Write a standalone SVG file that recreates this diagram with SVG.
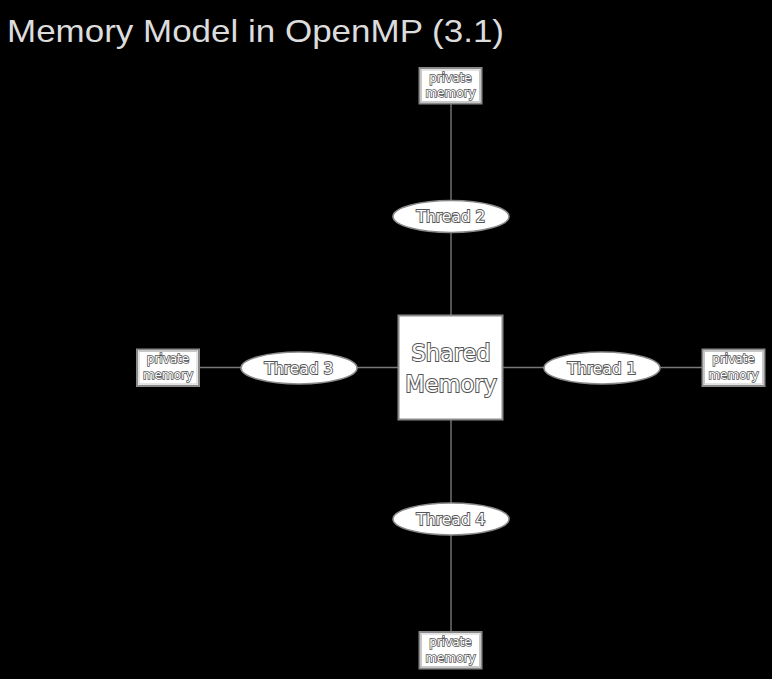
<svg xmlns="http://www.w3.org/2000/svg" width="772" height="679" viewBox="0 0 772 679">
<style>
.bg{fill:#000}
.title{font-family:"Liberation Sans","DejaVu Sans",sans-serif;font-size:32px;fill:#dcdcdc}
.box{fill:#fff;stroke:#8a8a8a;stroke-width:2}
.inner{fill:none;stroke:#bbb;stroke-width:0.8}
.ell{fill:#fff;stroke:#8a8a8a;stroke-width:1.6}
.edge{stroke:#777;stroke-width:1.4;fill:none}
.lbl{font-family:"DejaVu Sans",sans-serif;fill:#fff;stroke:#555;stroke-width:1.8;paint-order:stroke;text-anchor:middle}
.t{font-size:15.5px}
.p{font-size:12px;stroke-width:1.5}
.s{font-size:22.5px;stroke-width:2}
</style>
<rect class="bg" x="0" y="0" width="772" height="679"/>
<text class="title" x="7" y="42" textLength="497" lengthAdjust="spacingAndGlyphs">Memory Model in OpenMP (3.1)</text>
<g id="connectors">
<line class="edge" x1="451" y1="104" x2="451" y2="315"/>
<line class="edge" x1="451" y1="420" x2="451" y2="631"/>
<line class="edge" x1="200" y1="367.5" x2="398" y2="367.5"/>
<line class="edge" x1="503" y1="367.5" x2="702" y2="367.5"/>
</g>
<g id="shared">
<rect class="box" x="398.5" y="315.5" width="104" height="104"/>
<text class="lbl s" x="451" y="361">Shared</text>
<text class="lbl s" x="451" y="392">Memory</text>
</g>
<g id="thread2">
<ellipse class="ell" cx="451" cy="216.5" rx="58" ry="16"/>
<text class="lbl t" x="451" y="222">Thread 2</text>
</g>
<g id="thread4">
<ellipse class="ell" cx="451" cy="519" rx="58" ry="16"/>
<text class="lbl t" x="451" y="524.5">Thread 4</text>
</g>
<g id="thread3">
<ellipse class="ell" cx="299" cy="368" rx="58" ry="16"/>
<text class="lbl t" x="299" y="373.5">Thread 3</text>
</g>
<g id="thread1">
<ellipse class="ell" cx="602" cy="368" rx="58" ry="16"/>
<text class="lbl t" x="602" y="373.5">Thread 1</text>
</g>
<g id="mem2">
<rect class="box" x="419.5" y="68" width="62" height="35.5"/>
<rect class="inner" x="421.5" y="70" width="58" height="31.5"/>
<text class="lbl p" x="450.5" y="82">private</text>
<text class="lbl p" x="450.5" y="97">memory</text>
</g>
<g id="mem4">
<rect class="box" x="419.5" y="632" width="62" height="36.5"/>
<rect class="inner" x="421.5" y="634" width="58" height="32.5"/>
<text class="lbl p" x="450.5" y="646">private</text>
<text class="lbl p" x="450.5" y="662">memory</text>
</g>
<g id="mem3">
<rect class="box" x="137" y="349.5" width="62" height="36.5"/>
<rect class="inner" x="139" y="351.5" width="58" height="32.5"/>
<text class="lbl p" x="168" y="363">private</text>
<text class="lbl p" x="168" y="379">memory</text>
</g>
<g id="mem1">
<rect class="box" x="702.5" y="349.5" width="62" height="36.5"/>
<rect class="inner" x="704.5" y="351.5" width="58" height="32.5"/>
<text class="lbl p" x="733.5" y="363">private</text>
<text class="lbl p" x="733.5" y="379">memory</text>
</g>
</svg>
